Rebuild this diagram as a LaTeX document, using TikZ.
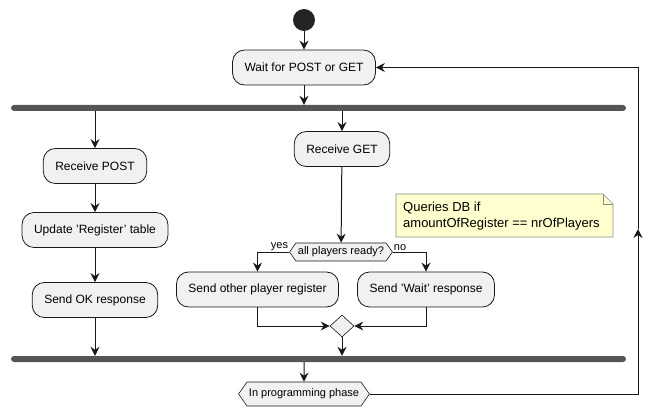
\documentclass[tikz,border=0pt]{standalone}
\usepackage{fontspec}
\setmainfont{Liberation Sans}
\usetikzlibrary{arrows.meta,shapes.geometric,shapes.symbols}
\definecolor{actfill}{HTML}{F1F1F1}
\definecolor{actline}{HTML}{181818}
\definecolor{barcol}{HTML}{555555}
\definecolor{notefill}{HTML}{FEFECE}
\definecolor{noteline}{HTML}{8C8C80}
\begin{document}
\begin{tikzpicture}[x=1pt,y=-1pt]
  %
  \tikzstyle{act} = [draw=actline, fill=actfill, line width=0.8pt, rounded corners=12pt, minimum height=35pt, inner xsep=12pt, font=\fontsize{12}{14}\selectfont]
  \tikzstyle{bar} = [fill=barcol, rounded corners=3pt, minimum width=615pt, minimum height=6pt, inner sep=0pt]
  \tikzstyle{hex} = [signal, signal to=west and east, signal pointer angle=110, draw=actline, fill=actfill, line width=0.6pt, inner xsep=2pt, inner ysep=1pt, font=\fontsize{11}{13}\selectfont]
  \tikzstyle{lbl} = [inner sep=1pt, font=\fontsize{11}{13}\selectfont]
  \tikzstyle{flow} = [draw=actline, line width=1pt, -{Stealth[length=9pt,width=9pt,inset=3pt]}]
  \useasboundingbox (0,0) rectangle (662,417);
  %
  \node[circle, fill=actline!95!white, minimum size=22pt, inner sep=0pt] (start) at (304,20) {};
  \node[act] (wait) at (304,67.5) {Wait for POST or GET};
  \node[bar] (forktop) at (318.5,108) {};
  %
  \node[act] (recvpost) at (95,166) {Receive POST};
  \node[act] (update) at (95,230) {Update 'Register' table};
  \node[act] (sendok) at (95,300) {Send OK response};
  %
  \node[act] (recvget) at (342,149) {Receive GET};
  \node[hex, minimum height=18pt] (ready) at (341,252) {all players ready?};
  \node[lbl, anchor=south east] (yes) at (ready.west) {yes};
  \node[lbl, anchor=south west] (no) at (ready.east) {no};
  \node[act] (sendother) at (257.5,289.5) {Send other player register};
  \node[act] (sendwait) at (426,289.5) {Send 'Wait' response};
  \node[diamond, draw=actline, fill=actfill, line width=0.6pt, minimum width=24pt, minimum height=22pt, inner sep=0pt] (merge) at (342,326) {};
  %
  \draw[noteline, fill=notefill, line width=0.6pt] (396,194) -- (603,194) -- (613,204) -- (613,237) -- (396,237) -- cycle;
  \draw[noteline, line width=0.6pt] (603,194) -- (603,204) -- (613,204);
  \node[anchor=west, align=left, inner sep=0pt, font=\fontsize{13}{16}\selectfont] (note) at (403,216) {Queries DB if\\amountOfRegister == nrOfPlayers};
  %
  \node[bar] (forkbot) at (318.5,359) {};
  \node[hex, minimum height=24pt] (phase) at (304,394) {In programming phase};
  \coordinate (retup) at (638,229);
  %
  \draw[flow] (start) -- (wait);
  \draw[flow] (wait) -- (forktop.north -| wait);
  \draw[flow] (forktop.south -| recvpost) -- (recvpost);
  \draw[flow] (recvpost) -- (update);
  \draw[flow] (update) -- (sendok);
  \draw[flow] (sendok) -- (forkbot.north -| sendok);
  \draw[flow] (forktop.south -| recvget) -- (recvget);
  \draw[flow] (recvget) -- (ready);
  \draw[flow] (ready.west) -| (sendother);
  \draw[flow] (ready.east) -| (sendwait);
  \draw[flow] (sendother) |- (merge.west);
  \draw[flow] (sendwait) |- (merge.east);
  \draw[flow] (merge) -- (forkbot.north -| merge);
  \draw[flow] (forkbot.south -| phase) -- (phase);
  \draw[flow] (phase.east) -| (retup);
  \draw[flow] (retup) |- (wait.east);
\end{tikzpicture}
\end{document}
